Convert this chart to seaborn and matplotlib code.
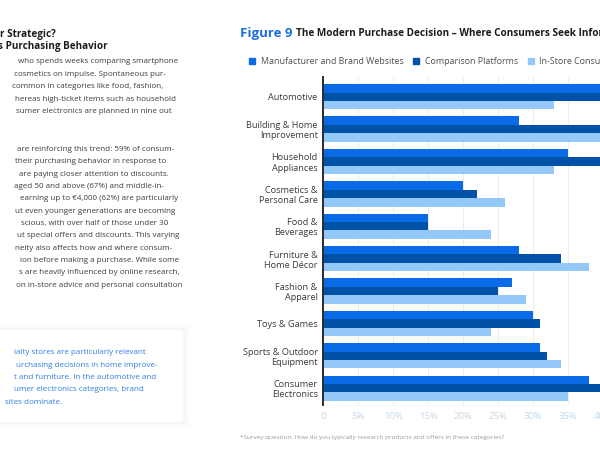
import numpy as np
import pandas as pd
import matplotlib.pyplot as plt
import seaborn as sns
from matplotlib.lines import Line2D
from matplotlib.patches import FancyBboxPatch

# %% Data
categories = ['Automotive', 'Building & Home\nImprovement', 'Household\nAppliances',
              'Cosmetics &\nPersonal Care', 'Food &\nBeverages', 'Furniture &\nHome Décor',
              'Fashion &\nApparel', 'Toys & Games', 'Sports & Outdoor\nEquipment',
              'Consumer\nElectronics']
series = ['Manufacturer and Brand Websites', 'Comparison Platforms', 'In-Store Consultation']
brand_sites = [45, 28, 35, 20, 15, 28, 27, 30, 31, 38]
comparison = [42, 42, 41, 22, 15, 34, 25, 31, 32, 44]
in_store = [33, 44, 33, 26, 24, 38, 29, 24, 34, 35]
tick_values = [0, 5, 10, 15, 20, 25, 30, 35, 40, 45]
tick_labels = ['0', '5%', '10%', '15%', '20%', '25%', '30%', '35%', '40%', '45%']
colors = ['#0a6be6', '#0052a6', '#94c8f8']

df = pd.DataFrame({
    'category': categories * 3,
    'series': np.repeat(series, len(categories)),
    'value': brand_sites + comparison + in_store,
})

# %% Style
sns.set_theme(style='white')
plt.rcParams['font.family'] = ['Open Sans', 'DejaVu Sans']

fig = plt.figure(figsize=(6, 4.51), dpi=100)
W, H = 600, 451

def fx(px):
    return px / W

def fy(py):
    return 1 - py / H

# %% Chart
ax = fig.add_axes([fx(323.3), fy(405), 315 / W, (405 - 77.3) / H])
sns.barplot(data=df, y='category', x='value', hue='series', palette=colors,
            orient='h', width=0.78, gap=0, saturation=1, linewidth=0,
            ax=ax, legend=False)
ax.set_xlim(0, 45)
ax.set_ylim(9.52, -0.6)
ax.set_xticks(tick_values)
ax.set_xticklabels(tick_labels)
ax.set_xlabel('')
ax.set_ylabel('')
ax.tick_params(axis='x', colors='#c6d7e7', labelsize=6.8, length=0, pad=5)
ax.tick_params(axis='y', colors='#3a3a3a', labelsize=6.6, length=0, pad=4)
for lab in ax.get_yticklabels():
    lab.set_linespacing(1.15)
ax.grid(axis='x', color='#ececec', lw=0.7)
ax.set_axisbelow(True)
for s in ['top', 'right', 'bottom']:
    ax.spines[s].set_visible(False)
ax.spines['left'].set_color('#2a2a2a')
ax.spines['left'].set_linewidth(1.4)

# %% Title, legend, footnote
fig.text(fx(240), fy(34), 'Figure 9', color='#1a6fe0', fontsize=9.5,
         fontweight='bold', va='center')
fig.text(fx(295.7), fy(34), 'The Modern Purchase Decision – Where Consumers Seek Information',
         color='#1c1c1c', fontsize=7.2, fontweight='bold', va='center')

handles = [Line2D([], [], marker='s', ls='', color=c, markersize=5) for c in colors]
fig.legend(handles, series, loc='center left', bbox_to_anchor=(fx(244), fy(62)),
           ncol=3, frameon=False, fontsize=6.4, labelcolor='#505050',
           handlelength=0.8, handletextpad=0.6, columnspacing=1.0, borderpad=0)

fig.text(fx(240), fy(437), '*Survey question: How do you typically research products and offers in these categories?',
         color='#9a9a9a', fontsize=4.6, va='center')

# %% Left text column (lines are cut by the page edge, so anchor them at their right end)
fig.text(fx(56), fy(34.3), 'r Strategic?', color='#1c1c1c', fontsize=7.1,
         fontweight='bold', va='center', ha='right')
fig.text(fx(108), fy(47), 's Purchasing Behavior', color='#1c1c1c', fontsize=7.1,
         fontweight='bold', va='center', ha='right')

para1 = [(178, 'who spends weeks comparing smartphone'),
         (166, 'cosmetics on impulse. Spontaneous pur-'),
         (163, 'common in categories like food, fashion,'),
         (176, 'hereas high-ticket items such as household'),
         (172, 'sumer electronics are planned in nine out')]
for i, (x1, line) in enumerate(para1):
    fig.text(fx(x1), fy(61.7 + i * 12.45), line, color='#3d3d3d', fontsize=5.75,
             va='center', ha='right')

para2 = [(174, 'are reinforcing this trend: 59% of consum-'),
         (166, 'their purchasing behavior in response to'),
         (169, 'are paying closer attention to discounts.'),
         (164, 'aged 50 and above (67%) and middle-in-'),
         (178, 'earning up to €4,000 (62%) are particularly'),
         (175, 'ut even younger generations are becoming'),
         (168, 'scious, with over half of those under 30'),
         (179, 'ut special offers and discounts. This varying'),
         (172, 'neity also affects how and where consum-'),
         (179, 'ion before making a purchase. While some'),
         (180, 's are heavily influenced by online research,'),
         (182, 'on in-store advice and personal consultation')]
for i, (x1, line) in enumerate(para2):
    fig.text(fx(x1), fy(149.5 + i * 12.35), line, color='#3d3d3d', fontsize=5.75,
             va='center', ha='right')

# white callout box with soft shadow
for k, a in enumerate([0.025, 0.02, 0.015]):
    pad = 2 + k * 2
    fig.patches.append(FancyBboxPatch((fx(-20 - pad), fy(423 + pad)), fx(204 + 2 * pad),
                                      (94 + 2 * pad) / H, boxstyle='round,pad=0,rounding_size=0.01',
                                      transform=fig.transFigure, fc='#8a9bb0', ec='none',
                                      alpha=a, zorder=0))
fig.patches.append(FancyBboxPatch((fx(-20), fy(423)), fx(204), 94 / H,
                                  boxstyle='round,pad=0,rounding_size=0.01',
                                  transform=fig.transFigure, fc='white', ec='#f2f2f2',
                                  lw=0.5, zorder=1))

box_lines = [(146, 'ialty stores are particularly relevant'),
             (157, 'urchasing decisions in home improve-'),
             (156, 't and furniture. In the automotive and'),
             (144, 'umer electronics categories, brand'),
             (62, 'sites dominate.')]
for i, (x1, line) in enumerate(box_lines):
    fig.text(fx(x1), fy(352.7 + i * 12.35), line, color='#2f7ee6', fontsize=5.75,
             va='center', ha='right', zorder=2)

fig.savefig('out.png', dpi=100)
